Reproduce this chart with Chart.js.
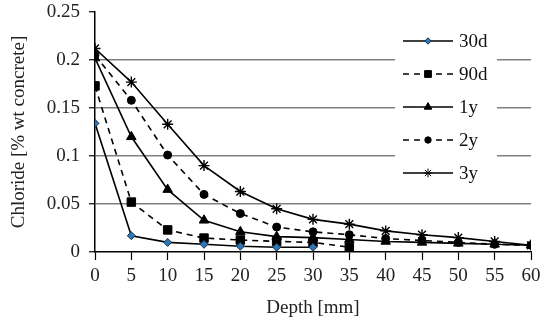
<!DOCTYPE html>
<html>
<head>
<meta charset="utf-8">
<script src="https://cdn.jsdelivr.net/npm/chart.js@4.4.0/dist/chart.umd.min.js"></script>
<style>
  html, body { margin: 0; padding: 0; background: #fff; }
  #wrap { width: 550px; height: 322px; }
</style>
</head>
<body>
<div id="wrap"><canvas id="chlorideChart"></canvas></div>
<script>
// depth (mm) and chloride profiles (% wt concrete)
const depths = [0, 5, 10, 15, 20, 25, 30, 35, 40, 45, 50, 55, 60];
const seriesNames = ['30d', '90d', '1y', '2y', '3y'];
const chl30d = [0.134, 0.017, 0.010, 0.008, 0.006, 0.005, 0.005];
const chl90d = [0.173, 0.052, 0.023, 0.0145, 0.0125, 0.011, 0.010, 0.005];
const chl1y = [0.202, 0.120, 0.065, 0.033, 0.021, 0.016, 0.015, 0.013, 0.011, 0.010, 0.009, 0.008, 0.007];
const chl2y = [0.205, 0.158, 0.101, 0.060, 0.040, 0.026, 0.021, 0.018, 0.014, 0.012, 0.010, 0.008, 0.007];
const chl3y = [0.212, 0.177, 0.133, 0.090, 0.063, 0.045, 0.034, 0.029, 0.022, 0.018, 0.015, 0.011, 0.007];
const yTickLabels = ['0', '0.05', '0.1', '0.15', '0.2', '0.25'];
const xTickLabels = ['0', '5', '10', '15', '20', '25', '30', '35', '40', '45', '50', '55', '60'];

const serif = "'Liberation Serif', 'Times New Roman', serif";

function toPoints(vals) {
    return vals.map((v, i) => ({ x: depths[i], y: v }));
}

// legend drawn inside the plot, over the grid lines
const insideLegend = {
    id: 'insideLegend',
    afterDraw(chart) {
        const ctx = chart.ctx;
        ctx.save();
        ctx.fillStyle = '#fff';
        ctx.fillRect(395, 24, 102, 166);
        chart.data.datasets.forEach((ds, i) => {
            const y = 41 + i * 33;
            ctx.strokeStyle = '#000';
            ctx.lineWidth = 1.6;
            ctx.setLineDash(ds.borderDash || []);
            ctx.beginPath();
            ctx.moveTo(403, y);
            ctx.lineTo(453, y);
            ctx.stroke();
            ctx.setLineDash([]);
            ctx.fillStyle = ds.pointBackgroundColor;
            ctx.strokeStyle = ds.pointBorderColor;
            ctx.lineWidth = 1;
            Chart.helpers.drawPoint(ctx, {
                pointStyle: ds.pointStyle,
                radius: ds.pointRadius * 0.8,
                rotation: 0,
                borderWidth: 1
            }, 428, y);
            ctx.fillStyle = '#111';
            ctx.font = '19px ' + serif;
            ctx.textBaseline = 'middle';
            ctx.textAlign = 'left';
            ctx.fillText(seriesNames[i], 459, y + 1);
        });
        ctx.restore();
    }
};

const ctx = document.getElementById('chlorideChart').getContext('2d');
new Chart(ctx, {
    type: 'line',
    data: {
        datasets: [
            {
                label: seriesNames[0],
                data: toPoints(chl30d),
                borderColor: '#000',
                borderWidth: 1.6,
                pointStyle: 'rectRot',
                pointRadius: 4,
                pointBackgroundColor: '#2c78b8',
                pointBorderColor: '#1b2f4a',
                pointBorderWidth: 1
            },
            {
                label: seriesNames[1],
                data: toPoints(chl90d),
                borderColor: '#000',
                borderWidth: 1.6,
                borderDash: [6, 5],
                pointStyle: 'rect',
                pointRadius: 6,
                pointBackgroundColor: '#000',
                pointBorderColor: '#000',
                pointBorderWidth: 1
            },
            {
                label: seriesNames[2],
                data: toPoints(chl1y),
                borderColor: '#000',
                borderWidth: 1.6,
                pointStyle: 'triangle',
                pointRadius: 5.5,
                pointBackgroundColor: '#000',
                pointBorderColor: '#000',
                pointBorderWidth: 1
            },
            {
                label: seriesNames[3],
                data: toPoints(chl2y),
                borderColor: '#000',
                borderWidth: 1.6,
                borderDash: [6, 5],
                pointStyle: 'circle',
                pointRadius: 4,
                pointBackgroundColor: '#000',
                pointBorderColor: '#000',
                pointBorderWidth: 1
            },
            {
                label: seriesNames[4],
                data: toPoints(chl3y),
                borderColor: '#000',
                borderWidth: 1.6,
                pointStyle: 'star',
                pointRadius: 5.5,
                pointBackgroundColor: '#000',
                pointBorderColor: '#000',
                pointBorderWidth: 1.4
            }
        ]
    },
    options: {
        responsive: true,
        maintainAspectRatio: false,
        animation: false,
        layout: { padding: { left: 2, right: 19, top: 12, bottom: 0 } },
        plugins: {
            legend: { display: false },
            tooltip: { enabled: false }
        },
        scales: {
            x: {
                type: 'linear',
                min: 0,
                max: 60,
                afterFit: s => { s.height = 70; },
                ticks: {
                    stepSize: 5,
                    autoSkip: false,
                    maxRotation: 0,
                    padding: 5,
                    color: '#222',
                    font: { family: serif, size: 19 },
                    callback: (v) => xTickLabels[Math.round(v / 5)]
                },
                grid: {
                    drawOnChartArea: false,
                    tickColor: '#000',
                    tickLength: 8,
                    tickWidth: 1.2
                },
                border: { color: '#000', width: 1.5 },
                title: {
                    display: true,
                    text: 'Depth [mm]',
                    color: '#222',
                    font: { family: serif, size: 19 },
                    padding: { top: 0, bottom: 3 }
                }
            },
            y: {
                min: 0,
                max: 0.25,
                afterFit: s => { s.width = 93; s.paddingTop = 0; s.paddingBottom = 0; },
                ticks: {
                    stepSize: 0.05,
                    padding: 9,
                    color: '#222',
                    font: { family: serif, size: 19 },
                    callback: (v) => yTickLabels[Math.round(v / 0.05)]
                },
                grid: {
                    color: (c) => (c.tick && c.tick.value > 0 && c.tick.value < 0.24) ? '#808080' : 'rgba(0,0,0,0)',
                    lineWidth: 1.5,
                    tickColor: '#000',
                    tickLength: 6,
                    tickWidth: 1.2
                },
                border: { color: '#000', width: 1.5 },
                title: {
                    display: true,
                    text: 'Chloride [% wt concrete]',
                    color: '#222',
                    font: { family: serif, size: 19 },
                    padding: { top: 6, bottom: 0 }
                }
            }
        }
    },
    plugins: [insideLegend]
});
</script>
</body>
</html>
